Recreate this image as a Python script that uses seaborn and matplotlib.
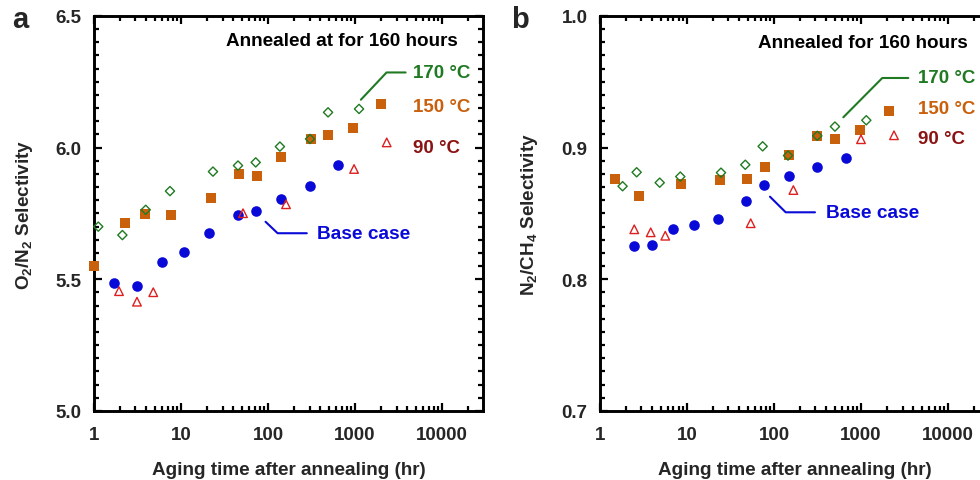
import matplotlib
matplotlib.use("Agg")
import matplotlib.pyplot as plt
import matplotlib.ticker as mticker
import seaborn as sns
import pandas as pd

# ---- data ----
# panel a: O2/N2 selectivity
a_170_t = [1.12, 2.12, 3.93, 7.47, 23.3, 45.2, 72.2, 137, 304, 490, 1112]
a_170_v = [5.70, 5.668, 5.764, 5.835, 5.909, 5.932, 5.944, 6.004, 6.033, 6.134, 6.147]
a_150_t = [1.0, 2.27, 3.86, 7.67, 22.3, 46, 74.8, 142, 310, 493, 956, 2005]
a_150_v = [5.551, 5.713, 5.748, 5.743, 5.809, 5.90, 5.892, 5.963, 6.033, 6.049, 6.075, 6.166]
a_90_t = [1.94, 3.12, 4.8, 51.6, 161, 975, 2314]
a_90_v = [5.455, 5.415, 5.451, 5.751, 5.785, 5.919, 6.02]
a_base_t = [1.70, 3.09, 6.05, 10.8, 21, 44.9, 72.8, 141, 301, 643]
a_base_v = [5.485, 5.475, 5.565, 5.605, 5.675, 5.745, 5.758, 5.804, 5.853, 5.935]

# panel b: N2/CH4 selectivity
b_170_t = [1.82, 2.64, 4.86, 8.38, 24.6, 46.8, 74.1, 145, 315, 502, 1151]
b_170_v = [0.8707, 0.8813, 0.8734, 0.878, 0.881, 0.887, 0.901, 0.894, 0.909, 0.916, 0.9208]
b_150_t = [1.50, 2.83, 8.53, 23.9, 48.9, 78.8, 149, 315, 507, 982, 2099]
b_150_v = [0.876, 0.8633, 0.8724, 0.8752, 0.876, 0.885, 0.8947, 0.909, 0.9066, 0.9134, 0.9276]
b_90_t = [2.48, 3.83, 5.63, 54, 167, 1000, 2395]
b_90_v = [0.838, 0.8357, 0.8331, 0.8426, 0.8678, 0.9064, 0.9094]
b_base_t = [2.46, 3.99, 6.96, 12.0, 22.5, 47.3, 76.2, 147.6, 312, 667]
b_base_v = [0.8251, 0.826, 0.8382, 0.8415, 0.8458, 0.8597, 0.8714, 0.8785, 0.8856, 0.892]

x_ticks = [1, 10, 100, 1000, 10000]
x_ticklabels = ["1", "10", "100", "1000", "10000"]

GREEN = "#1f7a22"
ORANGE = "#c9600c"
RED = "#dd1f1f"
DARKRED = "#8b1212"
BLUE = "#0a0ad8"

sns.set_theme(style="ticks")
plt.rcParams["font.family"] = ["Liberation Sans", "DejaVu Sans"]
plt.rcParams["font.weight"] = "bold"
plt.rcParams["mathtext.fontset"] = "custom"
plt.rcParams["mathtext.rm"] = "Liberation Sans:bold"
plt.rcParams["mathtext.it"] = "Liberation Sans:bold"
plt.rcParams["mathtext.bf"] = "Liberation Sans:bold"

fig = plt.figure(figsize=(9.8, 4.81), dpi=100)
ax_a = fig.add_axes([0.0959, 0.1435, 0.397, 0.8212])
ax_b = fig.add_axes([0.6122, 0.1435, 0.397, 0.8212])


def draw_series(ax, t, v, marker, color, s, filled, order):
    df = pd.DataFrame({"t": t, "v": v})
    if filled:
        sns.scatterplot(data=df, x="t", y="v", ax=ax, marker=marker, s=s,
                        color=color, edgecolor=color, linewidth=0,
                        clip_on=False, zorder=order)
    else:
        sns.scatterplot(data=df, x="t", y="v", ax=ax, marker=marker, s=s,
                        color=color, facecolors="none", edgecolor=color,
                        linewidth=1.0, clip_on=False, zorder=order)


def style_axes(ax, ylim, major, minor):
    ax.set_xscale("log")
    ax.set_xlim(1, 29600)
    ax.set_ylim(*ylim)
    ax.xaxis.set_major_locator(mticker.FixedLocator(x_ticks))
    ax.xaxis.set_major_formatter(mticker.FixedFormatter(x_ticklabels))
    ax.xaxis.set_minor_locator(mticker.LogLocator(base=10, subs=range(2, 10), numticks=20))
    ax.xaxis.set_minor_formatter(mticker.NullFormatter())
    ax.yaxis.set_major_locator(mticker.MultipleLocator(major))
    ax.yaxis.set_minor_locator(mticker.MultipleLocator(minor))
    ax.yaxis.set_major_formatter(mticker.FormatStrFormatter("%.1f"))
    ax.tick_params(which="both", direction="in", top=True, right=True,
                   width=1.6, color="black")
    ax.tick_params(which="major", length=6)
    ax.tick_params(which="minor", length=3.5)
    ax.tick_params(axis="y", which="major", labelsize=13.5, pad=9)
    ax.tick_params(axis="x", which="major", labelsize=13.5, pad=11)
    for lab in ax.get_xticklabels() + ax.get_yticklabels():
        lab.set_fontweight("bold")
    for sp in ax.spines.values():
        sp.set_visible(True)
        sp.set_linewidth(2.1)
        sp.set_color("black")
    ax.set_xlabel("Aging time after annealing (hr)", fontsize=13.6,
                  fontweight="bold", labelpad=13)


for ax, data in [
    (ax_a, [(a_170_t, a_170_v), (a_150_t, a_150_v), (a_90_t, a_90_v), (a_base_t, a_base_v)]),
    (ax_b, [(b_170_t, b_170_v), (b_150_t, b_150_v), (b_90_t, b_90_v), (b_base_t, b_base_v)]),
]:
    draw_series(ax, *data[1], "s", ORANGE, 58, True, 3)
    draw_series(ax, *data[3], "o", BLUE, 58, True, 4)
    draw_series(ax, *data[0], "D", GREEN, 22, False, 5)
    draw_series(ax, *data[2], "^", RED, 38, False, 5)

style_axes(ax_a, (5.0, 6.5), 0.5, 0.05)
style_axes(ax_b, (0.7, 1.0), 0.1, 0.01)

ax_a.set_ylabel("O$_2$/N$_2$ Selectivity", fontsize=13.6, fontweight="bold", labelpad=15)
ax_b.set_ylabel("N$_2$/CH$_4$ Selectivity", fontsize=13.6, fontweight="bold", labelpad=15)

# annotations (axes fraction)
ax_a.text(0.936, 0.939, "Annealed at for 160 hours", transform=ax_a.transAxes,
          ha="right", va="center", fontsize=13.6, fontweight="bold", color="black")
ax_a.plot([0.686, 0.752, 0.801], [0.788, 0.857, 0.857], color=GREEN, lw=1.5,
          transform=ax_a.transAxes, clip_on=False)
ax_a.text(0.82, 0.857, "170 °C", transform=ax_a.transAxes, ha="left", va="center",
          fontsize=13.5, fontweight="bold", color=GREEN)
ax_a.text(0.82, 0.770, "150 °C", transform=ax_a.transAxes, ha="left", va="center",
          fontsize=13.5, fontweight="bold", color=ORANGE)
ax_a.text(0.82, 0.668, "90 °C", transform=ax_a.transAxes, ha="left", va="center",
          fontsize=13.5, fontweight="bold", color=DARKRED)
ax_a.plot([0.441, 0.472, 0.547], [0.479, 0.45, 0.45], color=BLUE, lw=1.5,
          transform=ax_a.transAxes, clip_on=False)
ax_a.text(0.5725, 0.45, "Base case", transform=ax_a.transAxes, ha="left", va="center",
          fontsize=13.8, fontweight="bold", color=BLUE)

ax_b.text(0.945, 0.933, "Annealed for 160 hours", transform=ax_b.transAxes,
          ha="right", va="center", fontsize=13.6, fontweight="bold", color="black")
ax_b.plot([0.6255, 0.7257, 0.7926], [0.7435, 0.843, 0.843], color=GREEN, lw=1.5,
          transform=ax_b.transAxes, clip_on=False)
ax_b.text(0.8167, 0.843, "170 °C", transform=ax_b.transAxes, ha="left", va="center",
          fontsize=13.5, fontweight="bold", color=GREEN)
ax_b.text(0.8167, 0.7646, "150 °C", transform=ax_b.transAxes, ha="left", va="center",
          fontsize=13.5, fontweight="bold", color=ORANGE)
ax_b.text(0.8167, 0.6886, "90 °C", transform=ax_b.transAxes, ha="left", va="center",
          fontsize=13.5, fontweight="bold", color=DARKRED)
ax_b.plot([0.437, 0.4774, 0.5527], [0.5425, 0.503, 0.503], color=BLUE, lw=1.5,
          transform=ax_b.transAxes, clip_on=False)
ax_b.text(0.581, 0.503, "Base case", transform=ax_b.transAxes, ha="left", va="center",
          fontsize=13.8, fontweight="bold", color=BLUE)

fig.text(20 / 980, 1 - 20 / 481, "a", fontsize=21, fontweight="bold", ha="center", va="center")
fig.text(520 / 980, 1 - 20 / 481, "b", fontsize=21, fontweight="bold", ha="center", va="center")

fig.savefig("out.png", dpi=100)
